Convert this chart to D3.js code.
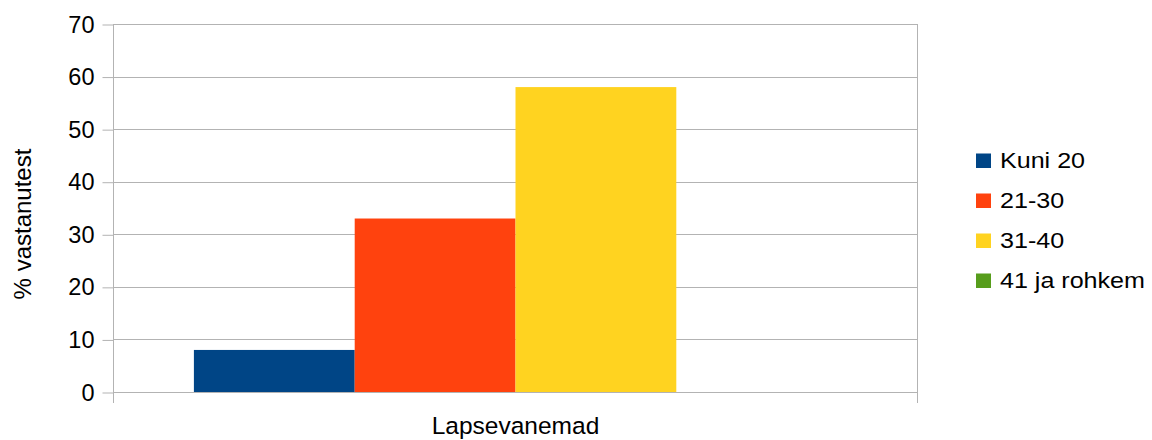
<!DOCTYPE html>
<html>
<head>
<meta charset="utf-8">
<script src="https://cdn.jsdelivr.net/npm/d3@7"></script>
<style>
  html, body { margin: 0; padding: 0; background: #fff; }
  svg { display: block; font-family: "Liberation Sans", Arial, sans-serif; }
</style>
</head>
<body>
<svg id="chart" width="1152" height="440"></svg>
<script>
// Vastajate vanuserühmad
const categories = ["Lapsevanemad"];
const seriesNames = ["Kuni 20", "21-30", "31-40", "41 ja rohkem"];
const seriesValues = [8, 33, 58, 0];
const seriesColors = ["#004586", "#ff420e", "#ffd320", "#579d1c"];
const yTicks = [0, 10, 20, 30, 40, 50, 60, 70];

const svg = d3.select("#chart");
const plot = { left: 113.5, right: 917.5, top: 24, bottom: 392 };

const x = d3.scaleBand().domain(categories).range([plot.left, plot.right]).paddingInner(0).paddingOuter(0);
const xInner = d3.scaleBand().domain(seriesNames).range([0, x.bandwidth()]).paddingOuter(0.5).paddingInner(0);
const y = d3.scaleLinear().domain([0, 70]).range([plot.bottom, plot.top]);

const gridColor = "#b3b3b3";

// horizontal grid lines
svg.append("g")
  .selectAll("line")
  .data(yTicks)
  .join("line")
  .attr("x1", plot.left).attr("x2", plot.right)
  .attr("y1", d => Math.round(y(d)) + 0.5).attr("y2", d => Math.round(y(d)) + 0.5)
  .attr("stroke", gridColor).attr("stroke-width", 1);

// right border of plot
svg.append("line")
  .attr("x1", plot.right).attr("x2", plot.right)
  .attr("y1", plot.top).attr("y2", plot.bottom + 11)
  .attr("stroke", gridColor);

// bars
svg.append("g")
  .selectAll("g")
  .data(categories)
  .join("g")
  .attr("transform", d => `translate(${x(d)},0)`)
  .selectAll("rect")
  .data(() => seriesNames.map((s, i) => ({ s, v: seriesValues[i], c: seriesColors[i] })))
  .join("rect")
  .attr("x", d => xInner(d.s))
  .attr("width", xInner.bandwidth())
  .attr("y", d => y(d.v))
  .attr("height", d => y(0) - y(d.v))
  .attr("fill", d => d.c);

// y axis
const yAxis = d3.axisLeft(y).tickValues(yTicks).tickSize(11).tickPadding(8).tickFormat(d3.format("d"));
const gy = svg.append("g").attr("transform", `translate(${plot.left},0.5)`).call(yAxis);
gy.select(".domain").remove();
gy.selectAll(".tick line").attr("stroke", gridColor);
gy.selectAll(".tick text").attr("font-size", 23.5).attr("fill", "#000")
  .attr("font-family", "Liberation Sans, Arial, sans-serif");
svg.append("line")
  .attr("x1", plot.left).attr("x2", plot.left)
  .attr("y1", plot.top).attr("y2", plot.bottom + 11)
  .attr("stroke", gridColor);

// x axis baseline ticks at band edges
svg.append("g").selectAll("line")
  .data([plot.left, plot.right])
  .join("line")
  .attr("x1", d => d).attr("x2", d => d)
  .attr("y1", plot.bottom).attr("y2", plot.bottom + 11)
  .attr("stroke", gridColor);

// x category label
svg.append("g").selectAll("text")
  .data(categories)
  .join("text")
  .attr("x", d => x(d) + x.bandwidth() / 2)
  .attr("y", 434)
  .attr("text-anchor", "middle")
  .attr("font-size", 24.5)
  .text(d => d);

// y axis title
svg.append("text")
  .attr("transform", "translate(31,224) rotate(-90)")
  .attr("text-anchor", "middle")
  .attr("font-size", 24)
  .text("% vastanutest");

// legend
const legend = svg.append("g").attr("transform", "translate(976,0)");
const rowY = [168, 208, 248, 288];
const lg = legend.selectAll("g")
  .data(seriesNames.map((s, i) => ({ s, c: seriesColors[i], by: rowY[i] })))
  .join("g")
  .attr("transform", d => `translate(0,${d.by})`);
lg.append("rect").attr("x", 0).attr("y", -14.5).attr("width", 15).attr("height", 14.5).attr("fill", d => d.c);
lg.append("text")
  .attr("transform", "translate(24,0) scale(1.14,1)")
  .attr("font-size", 22).text(d => d.s);
</script>
</body>
</html>
